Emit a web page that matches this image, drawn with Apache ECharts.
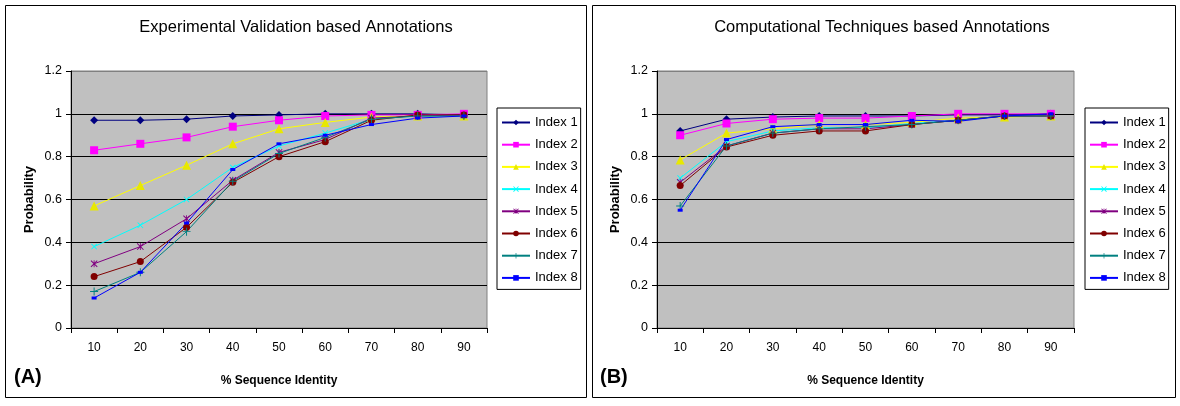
<!DOCTYPE html>
<html>
<head>
<meta charset="utf-8">
<script src="https://cdn.jsdelivr.net/npm/echarts@6/dist/echarts.min.js"></script>
<style>
html,body{margin:0;padding:0;background:#fff;}
#c{width:1180px;height:406px;}
</style>
</head>
<body>
<div id="c"></div>
<script>
const categories = ['10','20','30','40','50','60','70','80','90'];
const seriesNames = ['Index 1','Index 2','Index 3','Index 4','Index 5','Index 6','Index 7','Index 8'];
const yTicks = [0, 0.2, 0.4, 0.6, 0.8, 1, 1.2];

// Panel A: Experimental Validation based Annotations
const expIndex1 = [0.97, 0.97, 0.975, 0.99, 0.995, 1.0, 1.0, 1.0, 0.995];
const expIndex2 = [0.83, 0.86, 0.89, 0.94, 0.97, 0.99, 0.995, 0.995, 1.0];
const expIndex3 = [0.57, 0.665, 0.76, 0.86, 0.93, 0.96, 0.985, 0.99, 0.99];
const expIndex4 = [0.38, 0.48, 0.60, 0.75, 0.85, 0.91, 0.975, 0.99, 0.99];
const expIndex5 = [0.30, 0.38, 0.51, 0.69, 0.82, 0.88, 0.98, 0.99, 0.995];
const expIndex6 = [0.24, 0.31, 0.47, 0.68, 0.80, 0.87, 0.97, 0.995, 0.995];
const expIndex7 = [0.17, 0.26, 0.45, 0.685, 0.815, 0.89, 0.975, 0.99, 0.99];
const expIndex8 = [0.14, 0.26, 0.49, 0.74, 0.86, 0.90, 0.95, 0.98, 0.99];

// Panel B: Computational Techniques based Annotations
const compIndex1 = [0.92, 0.975, 0.985, 0.99, 0.99, 0.99, 0.995, 0.995, 1.0];
const compIndex2 = [0.90, 0.955, 0.975, 0.98, 0.98, 0.99, 1.0, 1.0, 1.0];
const compIndex3 = [0.785, 0.91, 0.93, 0.95, 0.95, 0.96, 0.98, 0.985, 0.99];
const compIndex4 = [0.70, 0.87, 0.92, 0.935, 0.935, 0.955, 0.97, 0.99, 0.99];
const compIndex5 = [0.68, 0.85, 0.91, 0.93, 0.93, 0.95, 0.97, 0.99, 0.99];
const compIndex6 = [0.665, 0.845, 0.90, 0.92, 0.92, 0.95, 0.97, 0.99, 0.99];
const compIndex7 = [0.57, 0.85, 0.91, 0.93, 0.94, 0.95, 0.97, 0.99, 0.99];
const compIndex8 = [0.55, 0.88, 0.94, 0.95, 0.95, 0.97, 0.965, 0.99, 1.0];

const expData = [expIndex1, expIndex2, expIndex3, expIndex4, expIndex5, expIndex6, expIndex7, expIndex8];
const compData = [compIndex1, compIndex2, compIndex3, compIndex4, compIndex5, compIndex6, compIndex7, compIndex8];

const colors = ['#000080','#FF00FF','#E8E800','#00FFFF','#800080','#800000','#008080','#0000FF'];
const lineColors = ['#000080','#FF00FF','#FFFF00','#00FFFF','#800080','#800000','#008080','#0000FF'];
const xPath = 'path://M1,0L5,4L9,0L10,1L6,5L10,9L9,10L5,6L1,10L0,9L4,5L0,1Z';
const astPath = 'path://M1,0L5,4L9,0L10,1L6,5L10,9L9,10L5,6L1,10L0,9L4,5L0,1Z M4.4,0L5.6,0L5.6,10L4.4,10Z';
const plusPath = 'path://M4.4,0L5.6,0L5.6,4.4L10,4.4L10,5.6L5.6,5.6L5.6,10L4.4,10L4.4,5.6L0,5.6L0,4.4L4.4,4.4Z';
const symbols = ['diamond','rect','triangle',xPath,astPath,'circle',plusPath,'rect'];
const symbolSizes = [8, 8, 9, 6, 7, 7, 8, [5,3]];

const font = '"Liberation Sans", Arial, sans-serif';
const chart = echarts.init(document.getElementById('c'));

function makeGrid(left, right) {
  return {left: left, width: right - left, top: 71, height: 257, show: true,
    backgroundColor: '#C0C0C0', borderColor: '#808080', borderWidth: 1, containLabel: false};
}
function makeX(gi) {
  return {type: 'category', gridIndex: gi, data: categories, boundaryGap: true,
    axisLine: {lineStyle: {color: '#000', width: 1}},
    axisTick: {show: true, interval: 0, length: 5, lineStyle: {color: '#000'}},
    axisLabel: {color: '#000', fontSize: 12, fontFamily: font, margin: 14, interval: 0},
    name: '% Sequence Identity', nameLocation: 'middle', nameGap: 47,
    nameTextStyle: {color: '#000', fontSize: 12, fontWeight: 'bold', fontFamily: font},
    splitLine: {show: false}};
}
function makeY(gi) {
  return {type: 'value', gridIndex: gi, min: 0, max: 1.2, interval: 0.2,
    axisLine: {show: true, lineStyle: {color: '#000', width: 1}},
    axisTick: {show: true, length: 5, lineStyle: {color: '#000'}},
    axisLabel: {color: '#000', fontSize: 12.5, fontFamily: font, margin: 9,
      formatter: function (v) { return String(Math.round(v * 10) / 10); }},
    splitLine: {show: true, lineStyle: {color: ['#000','#000','#000','#000','#000','#000','#808080'], width: 1}},
    name: 'Probability', nameLocation: 'middle', nameGap: 35, nameRotate: 90,
    nameTextStyle: {color: '#000', fontSize: 13, fontWeight: 'bold', fontFamily: font}};
}
function makeSeries(data, gi) {
  return data.map(function (d, i) {
    return {name: seriesNames[i], type: 'line', xAxisIndex: gi, yAxisIndex: gi,
      data: d, symbol: symbols[i], symbolSize: symbolSizes[i], showAllSymbol: true,
      lineStyle: {color: lineColors[i], width: 1},
      itemStyle: {color: colors[i]}, animation: false};
  });
}
function makeLegend(left) {
  return {orient: 'vertical', left: left, top: 108, data: seriesNames,
    backgroundColor: '#fff', borderColor: '#000', borderWidth: 1,
    padding: [8, 3, 5, 4], itemWidth: 28, itemHeight: 7, itemGap: 9.2,
    textStyle: {color: '#000', fontSize: 13, fontFamily: font}, selectedMode: false};
}

const option = {
  backgroundColor: '#fff',
  animation: false,
  title: [
    {text: 'Experimental Validation based Annotations', left: 291, top: 14, textAlign: 'center',
      textStyle: {fontSize: 16.5, fontWeight: 'normal', color: '#000', fontFamily: font}},
    {text: 'Computational Techniques based Annotations', left: 877, top: 14, textAlign: 'center',
      textStyle: {fontSize: 16.5, fontWeight: 'normal', color: '#000', fontFamily: font}}
  ],
  grid: [makeGrid(71, 487), makeGrid(657, 1074)],
  xAxis: [makeX(0), makeX(1)],
  yAxis: [makeY(0), makeY(1)],
  legend: [makeLegend(497), makeLegend(1085)],
  series: makeSeries(expData, 0).concat(makeSeries(compData, 1)),
  graphic: [
    {type: 'rect', shape: {x: 5.5, y: 5.5, width: 581, height: 392}, style: {fill: 'none', stroke: '#000', lineWidth: 1}, silent: true},
    {type: 'rect', shape: {x: 592.5, y: 5.5, width: 583, height: 392}, style: {fill: 'none', stroke: '#000', lineWidth: 1}, silent: true},
    {type: 'text', left: 14, top: 367, style: {text: '(A)', fontSize: 20, fontWeight: 'bold', fill: '#000', fontFamily: font}},
    {type: 'text', left: 600, top: 367, style: {text: '(B)', fontSize: 20, fontWeight: 'bold', fill: '#000', fontFamily: font}}
  ]
};
chart.setOption(option);
</script>
</body>
</html>
